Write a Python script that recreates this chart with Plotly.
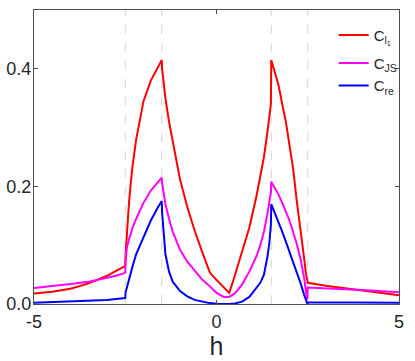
import plotly.graph_objects as go

h = [-5, -4.5, -4, -3.5, -3, -2.75, -2.5, -2.49, -2.45, -2.4, -2.35, -2.3, -2.2, -2.0,
     -1.8, -1.6, -1.5, -1.49, -1.45, -1.4, -1.3, -1.2, -1.0, -0.8, -0.6, -0.4, -0.18,
     0, 0.2, 0.35, 0.5, 0.7, 0.9, 1.1, 1.2, 1.3, 1.4, 1.45, 1.49, 1.5, 1.6, 1.7, 1.8,
     1.9, 2.0, 2.1, 2.2, 2.3, 2.4, 2.45, 2.49, 2.5, 3, 3.5, 4, 4.5, 5]

C_l1 = [0.018, 0.021, 0.026, 0.035, 0.048, 0.056, 0.065, 0.085, 0.125, 0.17, 0.205, 0.235,
        0.28, 0.345, 0.38, 0.405, 0.415, 0.40, 0.375, 0.35, 0.31, 0.275, 0.212, 0.165,
        0.125, 0.09, 0.053, 0.041, 0.029, 0.019, 0.048, 0.087, 0.13, 0.185, 0.215, 0.25,
        0.295, 0.32, 0.34, 0.415, 0.395, 0.372, 0.34, 0.31, 0.27, 0.23, 0.175, 0.13,
        0.078, 0.052, 0.04, 0.036, 0.031, 0.027, 0.024, 0.019, 0.015]

C_JS = [0.027, 0.030, 0.034, 0.038, 0.044, 0.048, 0.053, 0.075, 0.098, 0.11, 0.12, 0.13,
        0.145, 0.172, 0.193, 0.207, 0.215, 0.205, 0.185, 0.17, 0.145, 0.123, 0.092, 0.072,
        0.057, 0.042, 0.03, 0.019, 0.012, 0.012, 0.018, 0.033, 0.055, 0.082, 0.1, 0.123,
        0.155, 0.172, 0.19, 0.208, 0.198, 0.186, 0.172, 0.158, 0.142, 0.122, 0.102, 0.077,
        0.045, 0.022, 0.008, 0.028, 0.026, 0.025, 0.024, 0.022, 0.020]

C_re = [0.002, 0.003, 0.004, 0.005, 0.007, 0.0085, 0.010, 0.02, 0.03, 0.042, 0.053, 0.064,
        0.085, 0.115, 0.142, 0.165, 0.175, 0.155, 0.115, 0.085, 0.055, 0.038, 0.022, 0.013,
        0.007, 0.004, 0.0015, 0.0005, 0.0, 0.0, 0.001, 0.004, 0.012, 0.027, 0.036, 0.05,
        0.082, 0.105, 0.135, 0.170, 0.155, 0.14, 0.123, 0.106, 0.089, 0.072, 0.055, 0.036,
        0.016, 0.006, 0.0, 0.003, 0.003, 0.003, 0.0025, 0.002, 0.002]

critical_h = [-2.5, -1.5, 1.5, 2.5]

series_names = ["C<sub>l<sub>1</sub></sub>", "C<sub>JS</sub>", "C<sub>re</sub>"]
series_colors = ["#ff0000", "#ff00ff", "#0000ff"]
series_legend = ["legend", "legend2", "legend2"]

x_ticks = [-5, 0, 5]
x_ticktext = ["-5", "0", "5"]
y_ticks = [0.0, 0.2, 0.4]
y_ticktext = ["0.0", "0.2", "0.4"]

FONT = "Liberation Sans, Arial, sans-serif"
TXT = "#262626"

fig = go.Figure()

for xc in critical_h:
    fig.add_vline(x=xc, line=dict(color="#d4d4d4", width=1, dash="dash"), layer="below")

for name, ys, col, lg in zip(series_names, [C_l1, C_JS, C_re], series_colors, series_legend):
    fig.add_trace(go.Scatter(x=h, y=ys, mode="lines", name=name, legend=lg,
                             line=dict(color=col, width=2)))

axis_common = dict(showline=True, linecolor="#4d4d4d", linewidth=1, mirror="ticks",
                   ticks="inside", ticklen=4, tickcolor="#4d4d4d", showgrid=False,
                   zeroline=False, automargin=False,
                   tickfont=dict(family=FONT, size=18, color=TXT))

legend_common = dict(xanchor="left", yanchor="top", bgcolor="rgba(255,255,255,0)",
                     borderwidth=0, font=dict(family=FONT, size=15, color=TXT),
                     itemwidth=30, tracegroupgap=0)

fig.update_layout(
    width=415, height=361,
    margin=dict(l=34, r=16, t=10, b=57),
    paper_bgcolor="white", plot_bgcolor="white",
    font=dict(family=FONT, color=TXT),
    xaxis=dict(range=[-5, 5], tickvals=x_ticks, ticktext=x_ticktext,
               title=dict(text="h", font=dict(family=FONT, size=25, color=TXT),
                          standoff=3),
               ticklabelstandoff=1, **axis_common),
    yaxis=dict(range=[0, 0.5], tickvals=y_ticks, ticktext=y_ticktext,
               ticklabelstandoff=-2, **axis_common),
    legend=dict(x=0.821, y=0.97, **legend_common),
    legend2=dict(x=0.821, y=0.875, **legend_common),
    showlegend=True,
)

# Remove the browser's default 8px body margin so the figure fills the window.
fig.write_html("out.html", config={"displayModeBar": False},
               post_script="document.body.style.margin='0px';")
